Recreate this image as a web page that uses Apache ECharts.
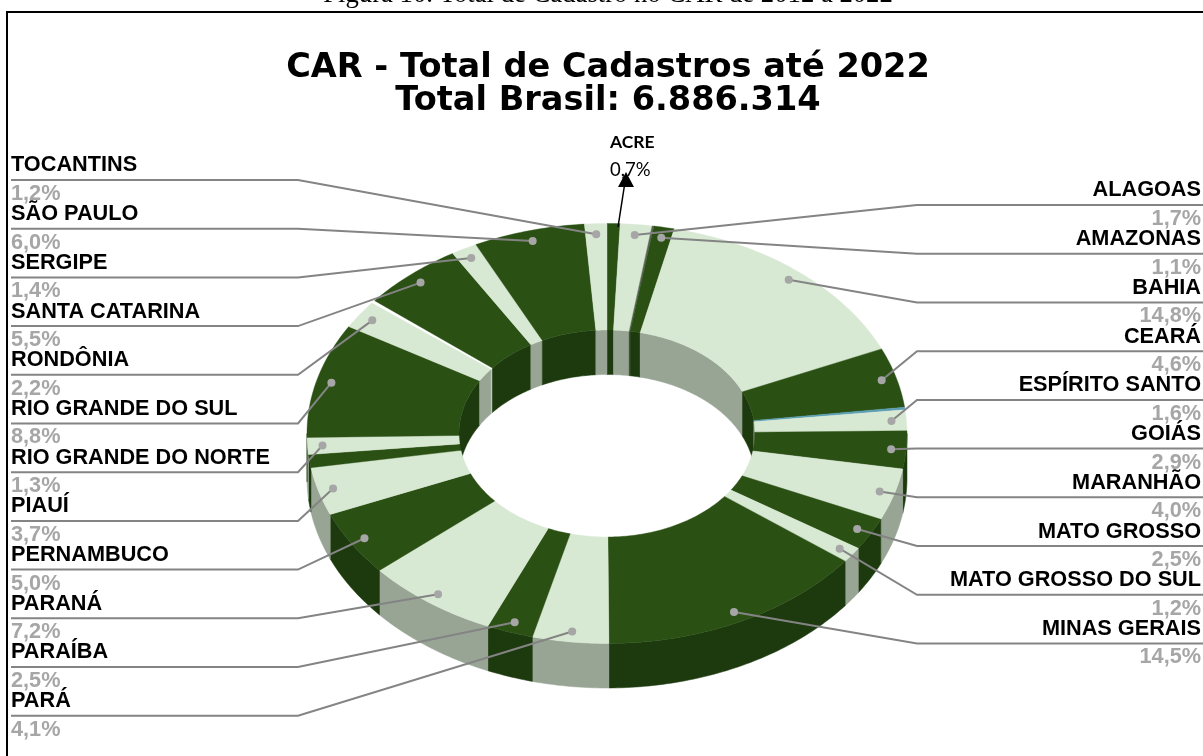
<!DOCTYPE html>
<html>
<head>
<meta charset="utf-8">
<title>CAR - Total de Cadastros</title>
<script src="https://cdn.jsdelivr.net/npm/echarts@6/dist/echarts.min.js"></script>
<style>
    html, body { margin: 0; padding: 0; background: #fff; overflow: hidden; }
    #box { width: 1203px; height: 756px; }
</style>
</head>
<body>
<div id="box"></div>
<script>
// estados em ordem alfabetica, sentido horario a partir de 12h
const states = ['ACRE', 'ALAGOAS', 'AMAPÁ', 'AMAZONAS', 'BAHIA', 'CEARÁ', 'DISTRITO FEDERAL', 'ESPÍRITO SANTO', 'GOIÁS',
    'MARANHÃO', 'MATO GROSSO', 'MATO GROSSO DO SUL', 'MINAS GERAIS', 'PARÁ', 'PARAÍBA', 'PARANÁ', 'PERNAMBUCO', 'PIAUÍ',
    'RIO DE JANEIRO', 'RIO GRANDE DO NORTE', 'RIO GRANDE DO SUL', 'RONDÔNIA', 'RORAIMA', 'SANTA CATARINA', 'SERGIPE',
    'SÃO PAULO', 'TOCANTINS'];
const shares = [0.7, 1.7, 0.1, 1.1, 14.8, 4.6, 0.2, 1.6, 2.9, 4.0, 2.5, 1.2, 14.5, 4.1, 2.5, 7.2, 5.0, 3.7, 1.0, 1.3, 8.8, 2.2, 0.2, 5.5, 1.4, 6.0, 1.2];
// fatias sem rotulo no grafico original
const unlabeled = ['AMAPÁ', 'DISTRITO FEDERAL', 'RIO DE JANEIRO', 'RORAIMA'];
const rightLabels = ['ALAGOAS', 'AMAZONAS', 'BAHIA', 'CEARÁ', 'ESPÍRITO SANTO', 'GOIÁS', 'MARANHÃO', 'MATO GROSSO', 'MATO GROSSO DO SUL', 'MINAS GERAIS'];
const leftLabels = ['TOCANTINS', 'SÃO PAULO', 'SERGIPE', 'SANTA CATARINA', 'RONDÔNIA', 'RIO GRANDE DO SUL', 'RIO GRANDE DO NORTE', 'PIAUÍ', 'PERNAMBUCO', 'PARANÁ', 'PARAÍBA', 'PARÁ'];
// fatias finas com cor propria
const thinColors = { 'AMAPÁ': ['#5d665a', '#3d463a'], 'DISTRITO FEDERAL': ['#5b9fb5', '#3f7a8c'], 'RORAIMA': ['#ffffff', '#c9d2c6'] };

const DARK = ['#2a5014', '#1d3a0e'];
const LIGHT = ['#d8e9d3', '#98a594'];
const cx = 607, cy = 433.5, rx = 300, ry = 210, holeX = 148, holeY = 103.5, depth = 44.5;
const dotR = 0.95;

const pct = v => v.toFixed(1).replace('.', ',') + '%';

// acumulado -> inicio e fim de cada fatia
let acc = 0;
const sliceData = shares.map((v, i) => {
    const row = [acc, acc + v, i];
    acc += v;
    return row;
});

// alterna escuro/claro ignorando as fatias finas
let toggle = 0;
const sliceColors = states.map(name => {
    if (thinColors[name]) return thinColors[name];
    const c = toggle % 2 === 0 ? DARK : LIGHT;
    toggle++;
    return c;
});

function toAngle(p) {
    return echarts.number.linearMap(p, [0, acc], [0, Math.PI * 2]);
}
function pointAt(a, kx, ky, dy) {
    return [cx + kx * Math.sin(a), cy - ky * Math.cos(a) + (dy || 0)];
}
function arc(a0, a1, kx, ky, dy) {
    const n = Math.max(2, Math.ceil((a1 - a0) / 0.015));
    const pts = [];
    for (let i = 0; i <= n; i++) {
        pts.push(pointAt(a0 + (a1 - a0) * i / n, kx, ky, dy));
    }
    return pts;
}
function band(a0, a1, kx0, ky0, dy0, kx1, ky1, dy1) {
    return arc(a0, a1, kx0, ky0, dy0).concat(arc(a0, a1, kx1, ky1, dy1).reverse());
}

function renderWalls(params, api) {
    const a0 = toAngle(api.value(0)), a1 = toAngle(api.value(1));
    const color = sliceColors[api.value(2)][1];
    const style = { fill: color, stroke: color, lineWidth: 0.5 };
    const children = [];
    const half = Math.PI / 2, end = half * 3;
    // parede externa so na metade da frente
    const fa0 = Math.max(a0, half), fa1 = Math.min(a1, end);
    if (fa1 > fa0) {
        children.push({ type: 'polygon', shape: { points: band(fa0, fa1, rx, ry, 0, rx, ry, depth) }, style: style });
    }
    // parede do furo so na metade de tras
    [[a0, Math.min(a1, half)], [Math.max(a0, end), a1]].forEach(r => {
        if (r[1] > r[0]) {
            children.push({ type: 'polygon', shape: { points: band(r[0], r[1], holeX, holeY, 0, holeX, holeY, depth) }, style: style });
        }
    });
    return { type: 'group', children: children };
}

function renderTop(params, api) {
    const a0 = toAngle(api.value(0)), a1 = toAngle(api.value(1));
    const color = sliceColors[api.value(2)][0];
    return {
        type: 'polygon',
        shape: { points: band(a0, a1, rx, ry, 0, holeX, holeY, 0) },
        style: { fill: color, stroke: color, lineWidth: 0.4 }
    };
}

function renderLabel(params, api) {
    const name = states[api.value(2)];
    if (unlabeled.indexOf(name) >= 0 || name === 'ACRE') return null;
    const a = toAngle((api.value(0) + api.value(1)) / 2);
    const dot = pointAt(a, rx * dotR, ry * dotR);
    const rightRow = rightLabels.indexOf(name);
    const isRight = rightRow >= 0;
    const lineY = isRight ? 205 + rightRow * 48.72 : 180 + leftLabels.indexOf(name) * 48.7;
    const lineStyle = { stroke: '#848484', lineWidth: 2, fill: null };
    const textX = isRight ? 1201 : 11;
    const align = isRight ? 'right' : 'left';
    return {
        type: 'group',
        children: [
            {
                type: 'polyline',
                shape: { points: isRight ? [[1203, lineY], [917, lineY], dot] : [[11, lineY], [298, lineY], dot] },
                style: lineStyle
            },
            { type: 'circle', shape: { cx: dot[0], cy: dot[1], r: 4 }, style: { fill: '#a6a6a6' } },
            {
                type: 'text',
                style: { x: textX, y: lineY - 14.5, text: name, align: align, verticalAlign: 'middle', fill: '#000', font: 'bold 21.7px "Liberation Sans"' }
            },
            {
                type: 'text',
                style: { x: textX, y: lineY + 14, text: pct(shares[api.value(2)]), align: align, verticalAlign: 'middle', fill: '#a6a6a6', font: 'bold 21.7px "Liberation Sans"' }
            }
        ]
    };
}

const seriesWalls = { type: 'custom', coordinateSystem: 'none', z: 2, silent: true, data: sliceData, renderItem: renderWalls };
const seriesTop = { type: 'custom', coordinateSystem: 'none', z: 3, silent: true, data: sliceData, renderItem: renderTop };
const seriesLabels = { type: 'custom', coordinateSystem: 'none', z: 4, silent: true, data: sliceData, renderItem: renderLabel };

const option = {
    animation: false,
    backgroundColor: '#fff',
    title: [
        {
            text: 'Figura 10. Total de Cadastro no CAR de 2012 a 2022',
            left: 603, top: -24, textAlign: 'center',
            textStyle: { fontFamily: 'Liberation Serif', fontWeight: 'normal', fontSize: 26.7, color: '#000' }
        },
        {
            text: 'CAR - Total de Cadastros até 2022\nTotal Brasil: 6.886.314',
            left: 603, top: 47.5, textAlign: 'center',
            textStyle: { fontFamily: 'DejaVu Sans', fontWeight: 'bold', fontSize: 33.6, lineHeight: 32.5, color: '#000' }
        }
    ],
    graphic: [
        { type: 'polyline', z: 1, shape: { points: [[7, 756], [7, 12], [1203, 12]] }, style: { stroke: '#000', lineWidth: 2, fill: null } },
        { type: 'line', z: 10, shape: { x1: 618, y1: 227, x2: 625, y2: 182 }, style: { stroke: '#000', lineWidth: 1.5 } },
        { type: 'polygon', z: 10, shape: { points: [[626, 172], [618, 187], [634, 187]] }, style: { fill: '#000' } },
        { type: 'text', z: 9, style: { x: 610, y: 142, text: 'ACRE', verticalAlign: 'middle', fill: '#000', font: 'bold 17.5px Lato' } },
        { type: 'text', z: 9, style: { x: 610, y: 170, text: pct(shares[0]), verticalAlign: 'middle', fill: '#000', font: '18.5px Lato' } }
    ],
    series: [seriesWalls, seriesTop, seriesLabels]
};

const chart = echarts.init(document.getElementById('box'));
chart.setOption(option);
</script>
</body>
</html>
